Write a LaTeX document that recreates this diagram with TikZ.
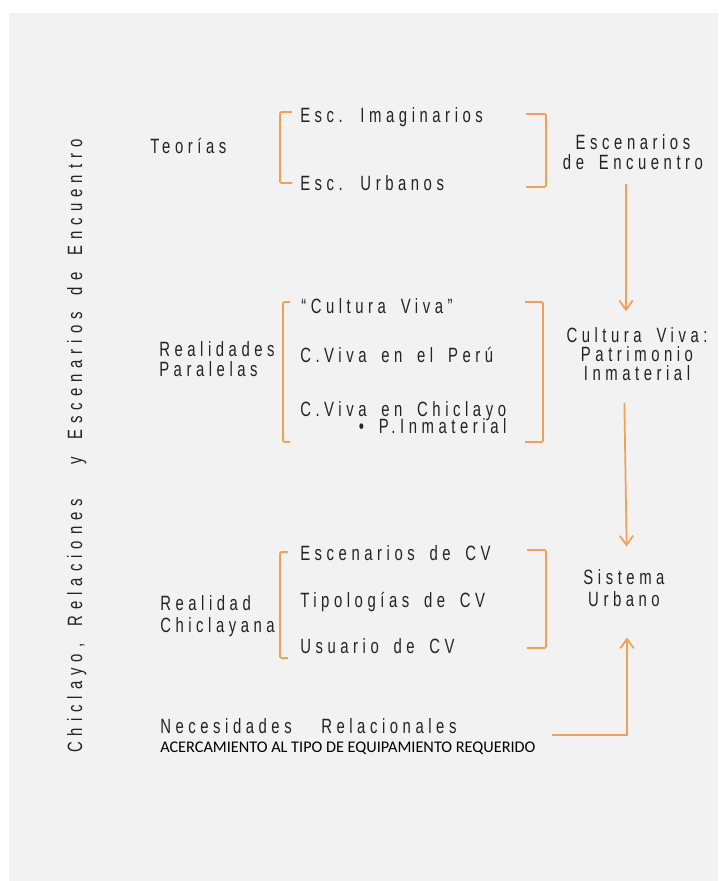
\documentclass[tikz,border=0pt]{standalone}
\usepackage{fontspec}
\usetikzlibrary{arrows.meta}
\newfontfamily\thinfont[FakeStretch=0.72,LetterSpace=22,WordSpace=1.7]{Liberation Sans}
\newfontfamily\titlefont[FakeStretch=0.72,LetterSpace=29,WordSpace=1.7]{Liberation Sans}
\newfontfamily\capsfont{Carlito}
\definecolor{paper}{RGB}{242,242,242}
\definecolor{ink}{RGB}{35,35,35}
\definecolor{tangerine}{RGB}{242,160,88}

\begin{document}
\begin{tikzpicture}[x=0.75pt,y=-0.75pt,>={Straight Barb[length=7pt,width=10pt]},
  txt/.style={inner sep=0pt,text=ink,font=\thinfont\fontsize{15.5}{15}\selectfont},
  brk/.style={draw=tangerine,line width=1.3pt,rounded corners=1pt},
  link/.style={->,draw=tangerine,line width=1.3pt}]
\useasboundingbox (0,0) rectangle (718,881);
\fill[white] (0,0) rectangle (718,881);
\fill[paper] (9,13) rectangle (718,881);
\node[txt,font=\titlefont\fontsize{15.5}{15}\selectfont,rotate=90,anchor=base west] (title) at (82,753) {Chiclayo, Relaciones~ y Escenarios de Encuentro};
\node[txt,anchor=base west] (teo) at (150,153) {Teorías};
\node[txt,anchor=west,align=left] (real) at (159,359.6) {Realidades\\Paralelas};
\node[txt,anchor=west,align=left] (chicl) at (160,615.8) {Realidad\\[1.5pt]Chiclayana};
\node[txt,anchor=base west] (imag) at (300,122) {Esc. Imaginarios};
\node[txt,anchor=base west] (urb) at (300,190) {Esc. Urbanos};
\node[txt,anchor=base west] (cviva) at (301,313) {“Cultura Viva”};
\node[txt,anchor=base west] (peru) at (300,362) {C.Viva en el Perú};
\node[txt,anchor=north west,align=left] (chic) at (300,401.2) {C.Viva en Chiclayo\\[-2pt]\hspace*{44pt}• P.Inmaterial};
\node[txt,anchor=base west] (escv) at (300,560) {Escenarios de CV};
\node[txt,anchor=base west] (tipo) at (300,607) {Tipologías de CV};
\node[txt,anchor=base west] (usu) at (300,653) {Usuario de CV};
\node[txt,anchor=base west] (nec) at (160,733) {Necesidades~ Relacionales};
\node[inner sep=0pt,text=black,font=\capsfont\fontsize{12.2}{14}\selectfont,anchor=base west] (acer) at (160,752) {ACERCAMIENTO AL TIPO DE EQUIPAMIENTO REQUERIDO};
\node[txt,align=center] (enc) at (633,152.6) {Escenarios\\de Encuentro};
\node[txt,align=center] (viva) at (637,354.1) {Cultura Viva:\\[-1pt]Patrimonio\\[-1pt]Inmaterial};
\node[txt,align=center] (sis) at (624,588.6) {Sistema\\[1.5pt]Urbano};
\draw[brk] (292,112) -- (280,112) -- (280,183) -- (292,183);
\draw[brk] (526,114) -- (546,114) -- (546,187) -- (526,187);
\draw[brk] (290,302) -- (283,302) -- (283,442) -- (290,442);
\draw[brk] (525,302) -- (543,302) -- (543,442) -- (525,442);
\draw[brk] (288,552) -- (280,552) -- (280,658) -- (288,658);
\draw[brk] (527,550) -- (546,550) -- (546,648) -- (527,648);
\coordinate (nstart) at (552,735);
\draw[link,shorten <=10.5pt,shorten >=12.2pt] ([xshift=-5.25pt]enc.south) -- ([xshift=-8.25pt]viva.north);
\draw[link,shorten <=16.5pt,shorten >=17.4pt] ([xshift=-9.75pt]viva.south) -- ([xshift=2.25pt]sis.north);
\draw[link,shorten >=22.5pt] (nstart) -| ([xshift=2.25pt]sis.south);
\end{tikzpicture}
\end{document}
